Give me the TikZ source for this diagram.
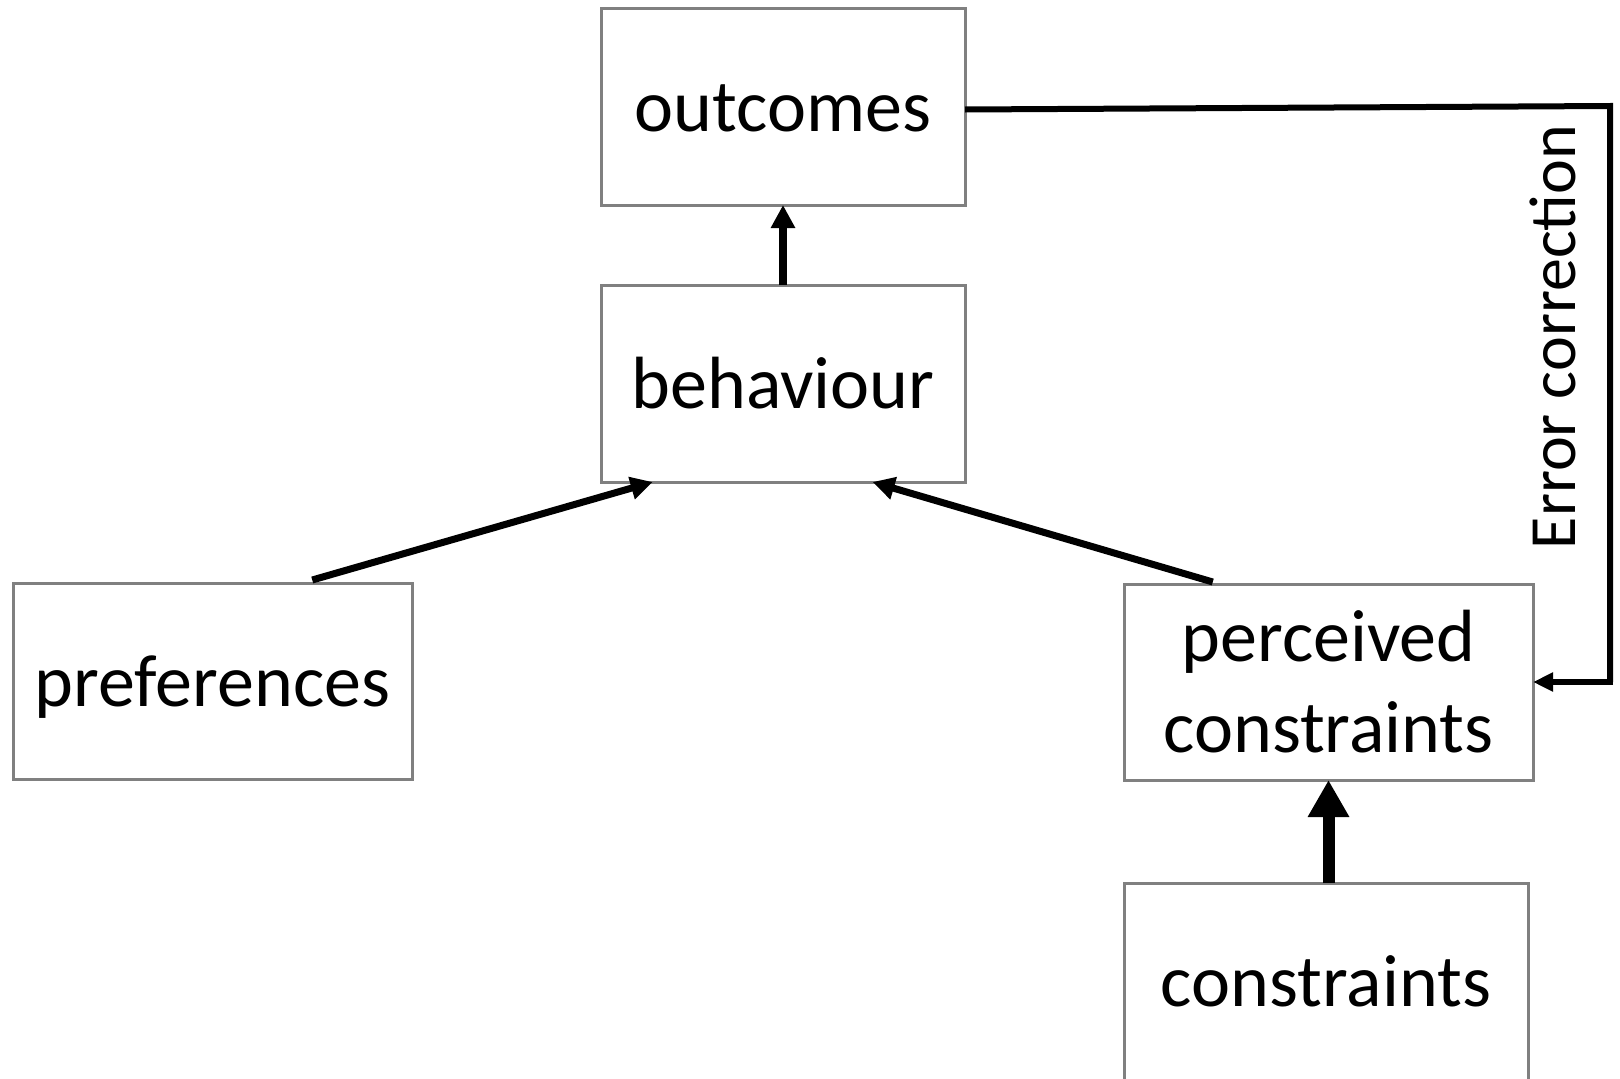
\documentclass[tikz,border=0pt]{standalone}
\usepackage{fontspec}
\setmainfont{Carlito}
\usetikzlibrary{arrows.meta,calc}
\definecolor{boxgray}{RGB}{128,128,128}
\begin{document}
\begin{tikzpicture}[x=1pt,y=-1pt,
  box/.style={draw=boxgray,line width=3pt,fill=white,inner sep=0pt,outer sep=0pt,
    align=center,font=\fontsize{74}{91}\selectfont,text height=65pt,text depth=15pt},
  twoline/.style={text height=156pt},
  link/.style={line width=7pt,-{Triangle[length=22pt,width=22pt]}},
  loopline/.style={line width=6pt,line join=miter}]
\useasboundingbox (0,0) rectangle (1620,1079);
\clip (0,0) rectangle (1620,1079);

% boxes
\node[box,minimum width=364pt,minimum height=197pt] (outcomes) at (783,106.5) {outcomes};
\node[box,minimum width=364pt,minimum height=197pt] (behaviour) at (783,383.5) {behaviour};
\node[box,minimum width=399pt,minimum height=196pt] (preferences) at (212.5,681) {preferences};
\node[box,twoline,minimum width=409pt,minimum height=196pt] (perceived) at (1328.5,682) {perceived\\constraints};
\node[box,minimum width=404pt,minimum height=197pt] (constraints) at (1326,981.5) {constraints};

% causal links
\draw[line width=8pt,-{Triangle[length=23pt,width=23pt]}] (behaviour.north) -- (outcomes.south);
\draw[link] ($(preferences.north west)!0.75!(preferences.north east)+(0,-3)$)
  -- ($(behaviour.south west)!0.142!(behaviour.south east)$);
\draw[link] ($(perceived.north west)!0.217!(perceived.north east)+(0,-2)$)
  -- ($(behaviour.south west)!0.746!(behaviour.south east)$);
\draw[line width=12pt,-{Triangle[length=37pt,width=39pt]}]
  (perceived.south |- constraints.north) -- (perceived.south);

% feedback loop
\coordinate (loopA) at (1610,106);
\coordinate (loopB) at (1610,682);
\draw[loopline] ([yshift=-3pt]outcomes.east) -- (loopA) -- (loopB);
\draw[line width=5.5pt,-{Triangle[length=20pt,width=18pt]}] ([xshift=3pt]loopB) -- (perceived.east);
\node[rotate=90,anchor=base,inner sep=0pt,font=\fontsize{66}{80}\selectfont] (errlabel)
  at (1575,337) {Error correction};
\end{tikzpicture}
\end{document}
